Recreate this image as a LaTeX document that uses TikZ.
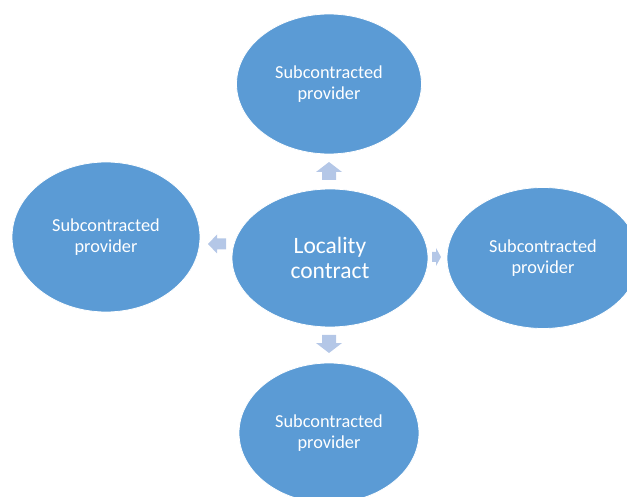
\documentclass[tikz,border=0pt]{standalone}
\usepackage{fontspec}
\setmainfont{Carlito}
\usetikzlibrary{shapes.geometric}
\definecolor{ellblue}{HTML}{5B9BD5}
\definecolor{arrblue}{HTML}{B4C7E7}
\tikzset{
  oval/.style={ellipse, fill=ellblue, draw=white, line width=0.8pt, inner sep=0pt,
    text=white, align=center, font=\fontsize{18.3}{20.5}\selectfont},
  bigoval/.style={oval, font=\fontsize{23.5}{25}\selectfont},
  blockarrow/.style={fill=arrblue}
}
\begin{document}
\begin{tikzpicture}[x=1pt,y=-1pt]
\useasboundingbox (0,0) rectangle (627,497);
\node[oval, minimum width=185pt, minimum height=140pt] (top) at (329,84) {Subcontracted\\provider};
\node[oval, minimum width=188pt, minimum height=150pt] (left) at (106,237) {Subcontracted\\provider};
\node[bigoval, minimum width=196pt, minimum height=138pt] (center) at (330,258) {Locality\\contract};
\node[oval, minimum width=192pt, minimum height=141pt] (right) at (543,258) {Subcontracted\\provider};
\node[oval, minimum width=180pt, minimum height=140pt] (bottom) at (329,433) {Subcontracted\\provider};
% block arrows
\fill[blockarrow] (329,162) -- (342,172) -- (336,172) -- (336,180) -- (322,180) -- (322,172) -- (316,172) -- cycle;
\fill[blockarrow] (329,353) -- (342,343) -- (336,343) -- (336,335) -- (322,335) -- (322,343) -- (316,343) -- cycle;
\fill[blockarrow] (208,244) -- (217,234.5) -- (217,238.5) -- (226,238.5) -- (226,249.5) -- (217,249.5) -- (217,253.5) -- cycle;
\fill[blockarrow] (441,257) -- (436,248) -- (436,252) -- (432,252) -- (432,262) -- (436,262) -- (436,266) -- cycle;
\end{tikzpicture}
\end{document}
